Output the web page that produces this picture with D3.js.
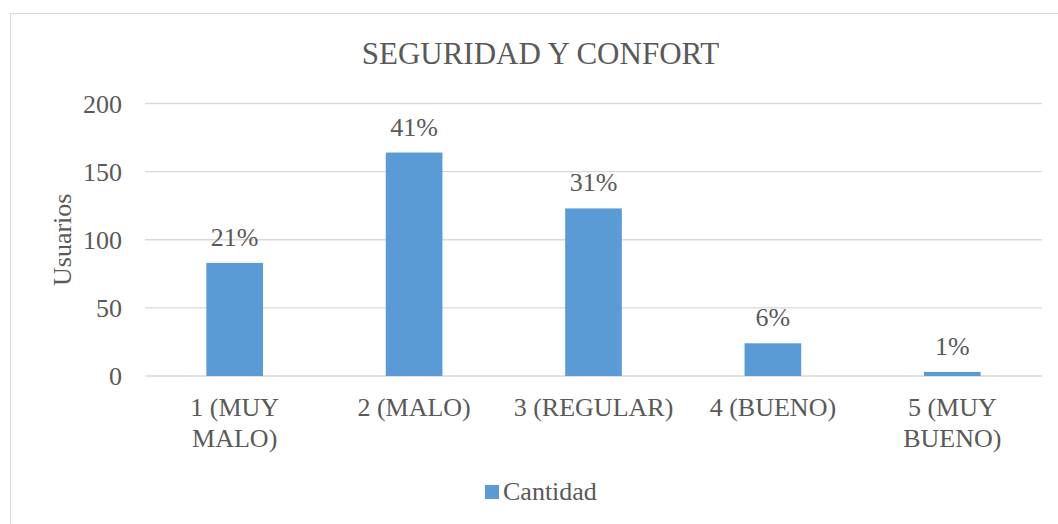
<!DOCTYPE html>
<html>
<head>
<meta charset="utf-8">
<script src="https://cdn.jsdelivr.net/npm/d3@7"></script>
<style>
  html, body { margin: 0; padding: 0; background: #fff; }
  svg text { font-family: 'Times New Roman', 'Liberation Serif', Times, serif; fill: #595959; }
</style>
</head>
<body>
<div id="chart"></div>
<script>
// chart data
const categories = [["1 (MUY", "MALO)"], ["2 (MALO)"], ["3 (REGULAR)"], ["4 (BUENO)"], ["5 (MUY", "BUENO)"]];
const cantidad = [83, 164, 123, 24, 3];
const percentLabels = ["21%", "41%", "31%", "6%", "1%"];
const yTicks = [0, 50, 100, 150, 200];

const width = 1058, height = 524;
const plot = {left: 145, right: 1042, top: 103.5, bottom: 376};
const serif = "'Times New Roman', 'Liberation Serif', Times, serif";

const svg = d3.select('#chart').append('svg')
    .attr('width', width)
    .attr('height', height)
    .attr('font-family', serif);

// outer chart frame (runs off the right and bottom edge)
svg.append('rect')
    .attr('x', 10.5).attr('y', 13.5)
    .attr('width', 1060).attr('height', 530)
    .attr('fill', 'none')
    .attr('stroke', '#d9d9d9');

const xScale = d3.scaleBand()
    .domain(d3.range(categories.length))
    .range([plot.left, plot.right])
    .paddingInner(0.684)
    .paddingOuter(0.342);

const yScale = d3.scaleLinear().domain([0, 200]).range([plot.bottom, plot.top]);

// gridlines
svg.append('g')
    .selectAll('line')
    .data(yTicks)
    .enter().append('line')
        .attr('x1', plot.left).attr('x2', plot.right)
        .attr('y1', d => yScale(d)).attr('y2', d => yScale(d))
        .attr('stroke', '#d9d9d9')
        .attr('stroke-width', 1.3);

// y tick labels
svg.append('g')
    .selectAll('text')
    .data(yTicks)
    .enter().append('text')
        .attr('x', 122)
        .attr('y', d => yScale(d) + 9)
        .attr('text-anchor', 'end')
        .attr('font-size', 26)
        .text(d => d);

// bars
svg.append('g')
    .selectAll('rect')
    .data(cantidad)
    .enter().append('rect')
        .attr('x', (d, i) => xScale(i))
        .attr('y', d => yScale(d))
        .attr('width', xScale.bandwidth())
        .attr('height', d => yScale(0) - yScale(d))
        .attr('fill', '#5b9bd5');

// percent labels
svg.append('g')
    .selectAll('text')
    .data(cantidad)
    .enter().append('text')
        .attr('x', (d, i) => xScale(i) + xScale.bandwidth() / 2)
        .attr('y', d => yScale(d) - 17)
        .attr('text-anchor', 'middle')
        .attr('font-size', 26)
        .text((d, i) => percentLabels[i]);

// category labels
const catG = svg.append('g')
    .selectAll('text')
    .data(categories)
    .enter().append('text')
        .attr('text-anchor', 'middle')
        .attr('font-size', 26)
        .attr('transform', (d, i) => `translate(${xScale(i) + xScale.bandwidth() / 2}, 416)`);

catG.selectAll('tspan')
    .data(d => d)
    .enter().append('tspan')
        .attr('x', 0)
        .attr('y', (d, j) => j * 31)
        .text(d => d);

// title
svg.append('text')
    .attr('x', (plot.left + plot.right) / 2 - 53)
    .attr('y', 64)
    .attr('text-anchor', 'middle')
    .attr('font-size', 31)
    .text('SEGURIDAD Y CONFORT');

// y axis title
svg.append('text')
    .attr('transform', `translate(71, ${(plot.top + plot.bottom) / 2}) rotate(-90)`)
    .attr('text-anchor', 'middle')
    .attr('font-size', 26)
    .text('Usuarios');

// legend
const legend = svg.append('g').attr('transform', 'translate(485, 485)');
legend.append('rect')
    .attr('width', 14).attr('height', 14)
    .attr('fill', '#5b9bd5');
legend.append('text')
    .attr('x', 18)
    .attr('y', 15)
    .attr('font-size', 26)
    .text('Cantidad');
</script>
</body>
</html>
